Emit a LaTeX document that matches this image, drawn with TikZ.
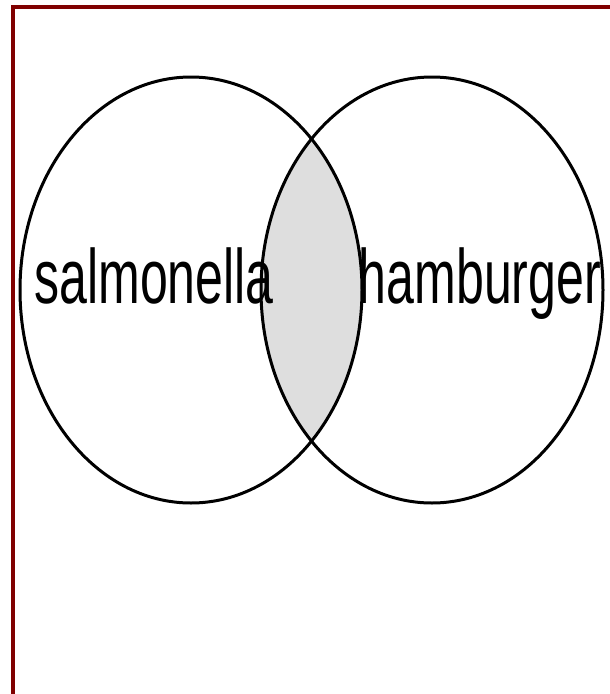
\documentclass[tikz,border=0pt]{standalone}
\usepackage{fontspec}
\newfontfamily\vennfont[FakeStretch=0.65]{Liberation Sans}
\usetikzlibrary{positioning}

\begin{document}
\begin{tikzpicture}[x=1pt,y=-1pt,
  frm/.style={draw=red!50!black,line width=4pt},
  rim/.style={draw=black,line width=3pt},
  lap/.style={fill=black!13},
  lbl/.style={anchor=base,inner sep=0pt,font=\vennfont\fontsize{77}{80}\selectfont}]
\def\rx{171}\def\ry{213}\def\yc{290}
\useasboundingbox (0,0) rectangle (610,694);
%------------- frame (left and top only)
\draw[frm] (13,694) -- (13,7) -- (610,7);
%------------- overlap of the two sets
\begin{scope}
\clip (191,\yc) ellipse [x radius=\rx,y radius=\ry];
\fill[lap] (432,\yc) ellipse [x radius=\rx,y radius=\ry];
\end{scope}
%------------- the two sets
\draw[rim] (191,\yc) ellipse [x radius=\rx,y radius=\ry];
\draw[rim] (432,\yc) ellipse [x radius=\rx,y radius=\ry];
\node[lbl] (salm) at (154,303) {salmonella};
\node[lbl] (burg) at (480,303) {hamburger};
\end{tikzpicture}
\end{document}
